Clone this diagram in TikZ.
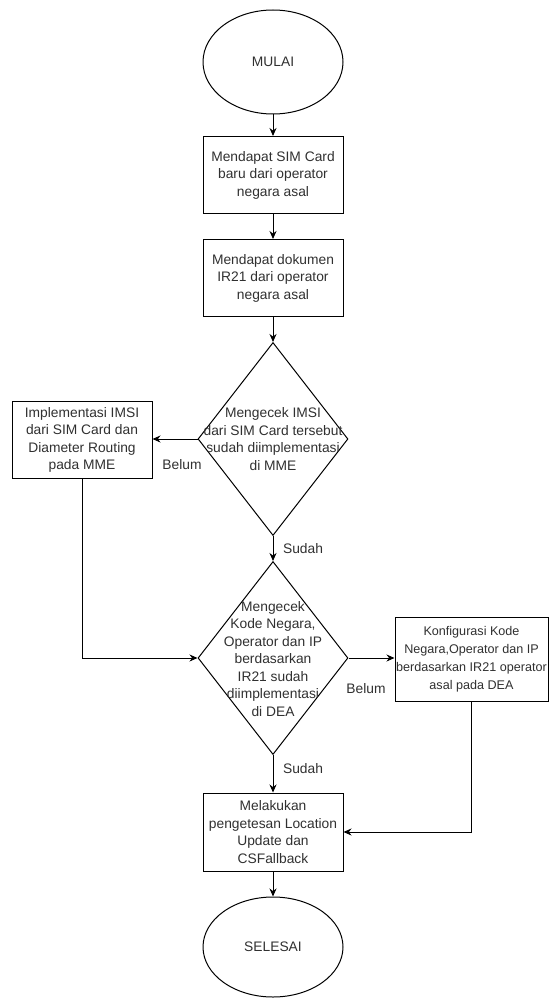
\documentclass[tikz,border=0pt]{standalone}
\usepackage{fontspec}
\setmainfont{Liberation Sans}
\usetikzlibrary{shapes.geometric,arrows.meta}
\definecolor{txt}{HTML}{303030}

\begin{document}
\begin{tikzpicture}[x=1pt,y=-1pt,line width=1pt,
  every node/.style={font=\fontsize{13.8}{17.5}\selectfont, text=txt, align=center, inner sep=0pt},
  terminal/.style={draw, ellipse, minimum width=140pt, minimum height=104pt},
  process/.style={draw, rectangle, minimum width=140pt, minimum height=77pt},
  decision/.style={draw, diamond, minimum width=150pt, minimum height=193pt},
  flow/.style={-{Stealth[length=8pt,width=7pt]}}]
\useasboundingbox (0,0) rectangle (550,1000);
\node[terminal] (mulai) at (273,62) {MULAI};
\node[process] (simcard) at (273,175) {Mendapat SIM Card\\baru dari operator\\negara asal};
\node[process] (dokumen) at (273,278) {Mendapat dokumen\\IR21 dari operator\\negara asal};
\node[decision] (cekimsi) at (273,439) {};
\node[] (cekimsitxt) at (cekimsi) {Mengecek IMSI\\dari SIM Card tersebut\\sudah diimplementasi\\di MME};
\node[process] (implimsi) at (82,440) {Implementasi IMSI\\dari SIM Card dan\\Diameter Routing\\pada MME};
\node[decision] (cekdea) at (273,658) {};
\node[] (cekdeatxt) at (273,659) {Mengecek\\Kode Negara,\\Operator dan IP\\berdasarkan\\IR21 sudah\\diimplementasi\\di DEA};
\node[process, minimum width=153pt, minimum height=84pt, font=\fontsize{12.6}{18}\selectfont] (konfig) at (471.5,659) {Konfigurasi Kode\\Negara,Operator dan IP\\berdasarkan IR21 operator\\asal pada DEA};
\node[process, minimum height=78pt] (tes) at (273,832) {Melakukan\\pengetesan Location\\Update dan\\CSFallback};
\node[terminal, minimum height=100pt] (selesai) at (273,947) {SELESAI};
\node[] (belum1) at (182,465) {Belum};
\node[] (sudah1) at (303,549) {Sudah};
\node[] (belum2) at (366,689) {Belum};
\node[] (sudah2) at (303,769) {Sudah};
\draw[flow] (mulai) -- (simcard);
\draw[flow] (simcard) -- (dokumen);
\draw[flow] (dokumen) -- (cekimsi.north);
\draw[flow] (cekimsi.west) -- (implimsi.east |- cekimsi.west);
\draw[flow] (cekimsi.south) -- (cekdea.north);
\draw[flow] (implimsi.south) |- (cekdea.west);
\draw[flow] (cekdea.east) -- (konfig.west |- cekdea.east);
\draw[flow] (cekdea.south) -- (tes.north);
\draw[flow] (konfig.south) |- (tes.east);
\draw[flow] (tes) -- (selesai);
\end{tikzpicture}
\end{document}
